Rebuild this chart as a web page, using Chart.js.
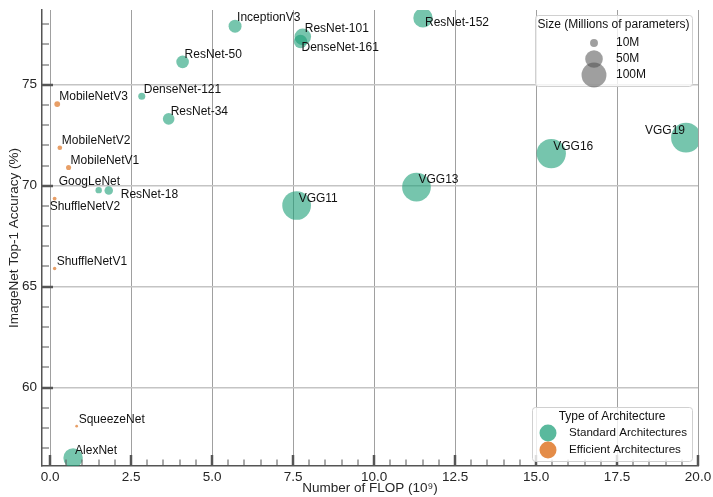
<!DOCTYPE html>
<html>
<head>
<meta charset="utf-8">
<script src="https://cdn.jsdelivr.net/npm/chart.js@4.4.1/dist/chart.umd.min.js"></script>
<style>
  html, body { margin: 0; padding: 0; background: #ffffff; }
  #wrap { width: 713px; height: 497px; }
</style>
</head>
<body>
<div id="wrap"><canvas id="chart" width="713" height="497"></canvas></div>
<script>
// ImageNet models: compute cost, accuracy and size
const models = ['AlexNet', 'SqueezeNet', 'ShuffleNetV1', 'ShuffleNetV2', 'GoogLeNet', 'ResNet-18',
  'MobileNetV1', 'MobileNetV2', 'MobileNetV3', 'DenseNet-121', 'ResNet-34', 'ResNet-50',
  'InceptionV3', 'ResNet-101', 'DenseNet-161', 'ResNet-152', 'VGG11', 'VGG13', 'VGG16', 'VGG19'];
const gflops = [0.71, 0.82, 0.14, 0.14, 1.50, 1.81, 0.57, 0.30, 0.22, 2.83, 3.66, 4.09,
  5.71, 7.80, 7.73, 11.51, 7.61, 11.31, 15.47, 19.63];
const top1 = [56.52, 58.09, 65.9, 69.36, 69.78, 69.76, 70.9, 71.88, 74.04, 74.43, 73.31, 76.13,
  77.9, 77.37, 77.14, 78.31, 69.02, 69.93, 71.59, 72.38];
const paramsM = [61.1, 1.2, 1.9, 2.3, 6.6, 11.7, 4.2, 3.5, 5.5, 8.0, 21.8, 25.6,
  27.2, 44.5, 28.7, 60.2, 132.9, 133.0, 138.4, 143.7];
const family = ['std', 'eff', 'eff', 'eff', 'std', 'std', 'eff', 'eff', 'eff', 'std', 'std', 'std',
  'std', 'std', 'std', 'std', 'std', 'std', 'std', 'std'];

const xTickValues = [0, 2.5, 5, 7.5, 10, 12.5, 15, 17.5, 20];
const yTickValues = [60, 65, 70, 75];
const sizeLegendValues = [10, 50, 100];
const typeLabels = ['Standard Architectures', 'Efficient Architectures'];

const X_MIN = -0.25, X_MAX = 20, Y_MIN = 56.12, Y_MAX = 78.7;

const FONT = '"Liberation Sans", Arial, Helvetica, sans-serif';
const TEXT = '#262626';
const AXIS = '#555555';
const GREEN = 'rgba(27,158,119,0.6)';
const ORANGE = 'rgba(217,95,2,0.6)';
const GREEN_KEY = 'rgba(27,158,119,0.72)';
const ORANGE_KEY = 'rgba(217,95,2,0.72)';

// marker area grows with parameter count
const radiusFor = p => Math.sqrt(1.55 * p);

// text placement around each marker: [dx, dy, align]
const labelShift = {
  'ShuffleNetV2': [-5, 8, 'left'],
  'GoogLeNet': [-40, -8, 'left'],
  'ResNet-18': [12, 4, 'left'],
  'DenseNet-161': [1, 6, 'left'],
  'ResNet-152': [2, 5, 'left'],
  'InceptionV3': [2, -8, 'left'],
  'ResNet-101': [2, -8, 'left'],
  'VGG19': [-1, -7, 'right']
};
const defaultShift = [2, -7, 'left'];

function pointsFor(kind) {
  const out = [];
  models.forEach((name, i) => {
    if (family[i] === kind) out.push({ x: gflops[i], y: top1[i], p: paramsM[i], name });
  });
  return out;
}

const pointLabels = {
  id: 'pointLabels',
  afterDatasetsDraw(chart) {
    const ctx = chart.ctx;
    ctx.save();
    ctx.font = '12px ' + FONT;
    ctx.fillStyle = '#111111';
    ctx.textBaseline = 'middle';
    chart.data.datasets.forEach((ds, di) => {
      const meta = chart.getDatasetMeta(di);
      meta.data.forEach((el, i) => {
        const name = ds.data[i].name;
        const [dx, dy, align] = labelShift[name] || defaultShift;
        ctx.textAlign = align;
        ctx.fillText(name, el.x + dx, el.y + dy);
      });
    });
    ctx.restore();
  }
};

// inward major/minor tick marks on both axes
const innerTicks = {
  id: 'innerTicks',
  afterDatasetsDraw(chart) {
    const { ctx, chartArea, scales } = chart;
    const xs = scales.x, ys = scales.y;
    ctx.save();
    ctx.strokeStyle = AXIS;
    const mark = (x1, y1, x2, y2, w) => {
      ctx.lineWidth = w;
      ctx.beginPath(); ctx.moveTo(x1, y1); ctx.lineTo(x2, y2); ctx.stroke();
    };
    for (let k = 0; k <= 40; k++) {
      const v = k * 0.5;
      const px = Math.round(xs.getPixelForValue(v));
      const major = xTickValues.includes(v);
      mark(px, chartArea.bottom, px, chartArea.bottom - (major ? 11 : 6.5), major ? 2.5 : 1);
    }
    for (let v = 57; v <= 78; v++) {
      const py = Math.round(ys.getPixelForValue(v));
      const major = yTickValues.includes(v);
      mark(chartArea.left, py, chartArea.left + (major ? 11 : 7), py, major ? 2.5 : 1);
    }
    ctx.restore();
  }
};

function legendBox(ctx, x, y, w, h) {
  ctx.save();
  ctx.fillStyle = 'rgba(255,255,255,0.8)';
  ctx.strokeStyle = '#d0d0d0';
  ctx.lineWidth = 1;
  ctx.beginPath();
  ctx.roundRect(x + 0.5, y + 0.5, w, h, 3);
  ctx.fill();
  ctx.stroke();
  ctx.restore();
}

const keys = {
  id: 'keys',
  afterDraw(chart) {
    const { ctx, chartArea } = chart;
    // size key, top right
    let w = 157, h = 71;
    let left = chartArea.right - 6 - w, top = chartArea.top + 5;
    legendBox(ctx, left, top, w, h);
    ctx.save();
    ctx.fillStyle = '#111111';
    ctx.font = '12px ' + FONT;
    ctx.textBaseline = 'middle';
    ctx.textAlign = 'center';
    ctx.fillText('Size (Millions of parameters)', left + w / 2, top + 10);
    sizeLegendValues.forEach((v, i) => {
      const cy = top + 28 + i * 16;
      ctx.fillStyle = 'rgba(80,80,80,0.55)';
      ctx.beginPath();
      ctx.arc(left + 59, cy, radiusFor(v), 0, Math.PI * 2);
      ctx.fill();
    });
    ctx.fillStyle = '#111111';
    ctx.textAlign = 'left';
    sizeLegendValues.forEach((v, i) => {
      ctx.fillText(v + 'M', left + 81, top + 28 + i * 16);
    });

    // type key, bottom right
    w = 160; h = 54;
    left = chartArea.right - 6 - w; top = chartArea.bottom - 5 - h;
    legendBox(ctx, left, top, w, h);
    ctx.fillStyle = '#111111';
    ctx.textAlign = 'center';
    ctx.fillText('Type of Architecture', left + w / 2, top + 10);
    [GREEN_KEY, ORANGE_KEY].forEach((c, i) => {
      const cy = top + 26 + i * 17;
      ctx.fillStyle = c;
      ctx.beginPath();
      ctx.arc(left + 16, cy, 8.5, 0, Math.PI * 2);
      ctx.fill();
      ctx.fillStyle = '#111111';
      ctx.textAlign = 'left';
      ctx.font = '11.6px ' + FONT;
      ctx.fillText(typeLabels[i], left + 37, cy);
    });
    ctx.restore();
  }
};

new Chart(document.getElementById('chart'), {
  type: 'scatter',
  data: {
    datasets: [
      { label: typeLabels[0], data: pointsFor('std'), backgroundColor: GREEN },
      { label: typeLabels[1], data: pointsFor('eff'), backgroundColor: ORANGE }
    ]
  },
  options: {
    responsive: false,
    animation: false,
    events: [],
    clip: 0,
    layout: { autoPadding: false, padding: { left: 0, top: 10, right: 15, bottom: 0 } },
    elements: {
      point: {
        radius: ctx => radiusFor(ctx.raw ? ctx.raw.p : 1),
        borderWidth: 0,
        hoverRadius: 0
      }
    },
    plugins: { legend: { display: false }, tooltip: { enabled: false } },
    scales: {
      x: {
        type: 'linear', min: X_MIN, max: X_MAX,
        afterBuildTicks: s => { s.ticks = xTickValues.map(v => ({ value: v })); },
        afterFit: s => { s.height = 31; s.paddingLeft = 0; s.paddingRight = 0; },
        ticks: {
          padding: 3, color: TEXT, maxRotation: 0,
          font: { family: FONT, size: 13.5 },
          callback: v => Number(v).toFixed(1)
        },
        grid: { color: '#a0a0a0', lineWidth: 1, drawTicks: false },
        border: { color: AXIS, width: 1.5 },
        title: {
          display: true, text: 'Number of FLOP (10\u2079)', color: TEXT,
          font: { family: FONT, size: 13.5 }, padding: { top: 0, bottom: 1 }
        }
      },
      y: {
        type: 'linear', min: Y_MIN, max: Y_MAX,
        afterBuildTicks: s => { s.ticks = yTickValues.map(v => ({ value: v })); },
        afterFit: s => { s.width = 42; s.paddingTop = 0; s.paddingBottom = 0; },
        ticks: {
          padding: 5, color: TEXT,
          font: { family: FONT, size: 13.5 },
          callback: v => String(v)
        },
        grid: { color: '#c4c4c4', lineWidth: 1.6, drawTicks: false },
        border: { color: AXIS, width: 1.5 },
        title: {
          display: true, text: 'ImageNet Top-1 Accuracy (%)', color: TEXT,
          font: { family: FONT, size: 13.5 }, padding: { top: 6, bottom: 0 }
        }
      }
    }
  },
  plugins: [pointLabels, innerTicks, keys]
});
</script>
</body>
</html>
